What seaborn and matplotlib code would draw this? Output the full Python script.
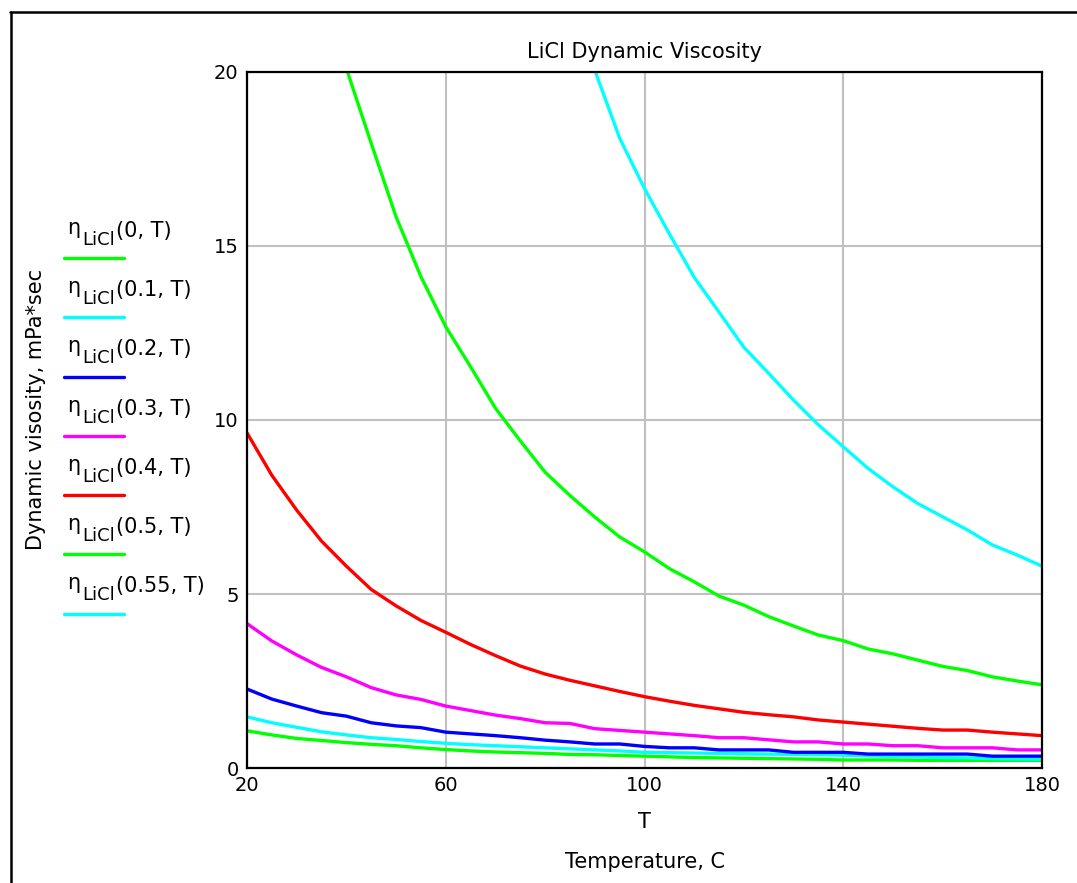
import numpy as np
import pandas as pd
import matplotlib
matplotlib.use("Agg")
import matplotlib.pyplot as plt
from matplotlib.lines import Line2D
import seaborn as sns

# ---------------- data ----------------
temperature = [20, 25, 30, 35, 40, 45, 50, 55, 60, 65, 70, 75, 80, 85, 90, 95, 100,
               105, 110, 115, 120, 125, 130, 135, 140, 145, 150, 155, 160, 165, 170, 175, 180]

visc_00 = [1.07, 0.95, 0.85, 0.79, 0.73, 0.68, 0.64, 0.58, 0.53, 0.49, 0.46, 0.44, 0.42, 0.39,
           0.38, 0.36, 0.34, 0.32, 0.30, 0.29, 0.28, 0.27, 0.26, 0.25, 0.23, 0.23, 0.23, 0.22,
           0.22, 0.22, 0.22, 0.22, 0.22]
visc_01 = [1.47, 1.30, 1.17, 1.04, 0.95, 0.87, 0.82, 0.76, 0.71, 0.67, 0.64, 0.61, 0.58, 0.55,
           0.52, 0.49, 0.45, 0.44, 0.43, 0.42, 0.41, 0.40, 0.39, 0.38, 0.37, 0.35, 0.33, 0.32,
           0.30, 0.29, 0.27, 0.26, 0.25]
visc_02 = [2.27, 1.98, 1.78, 1.59, 1.49, 1.30, 1.21, 1.16, 1.03, 0.98, 0.93, 0.87, 0.80, 0.75,
           0.69, 0.69, 0.62, 0.58, 0.58, 0.52, 0.52, 0.52, 0.45, 0.45, 0.45, 0.40, 0.40, 0.40,
           0.40, 0.40, 0.34, 0.34, 0.34]
visc_03 = [4.15, 3.65, 3.25, 2.89, 2.62, 2.31, 2.10, 1.97, 1.78, 1.65, 1.52, 1.42, 1.30, 1.28,
           1.13, 1.08, 1.03, 0.98, 0.93, 0.87, 0.87, 0.81, 0.75, 0.75, 0.69, 0.69, 0.64, 0.64,
           0.58, 0.58, 0.58, 0.52, 0.52]
visc_04 = [9.63, 8.41, 7.41, 6.52, 5.80, 5.13, 4.66, 4.24, 3.90, 3.55, 3.23, 2.93, 2.70, 2.52,
           2.36, 2.20, 2.05, 1.92, 1.80, 1.70, 1.60, 1.53, 1.47, 1.38, 1.32, 1.26, 1.20, 1.14,
           1.09, 1.09, 1.03, 0.98, 0.93]
visc_05 = [np.nan, np.nan, np.nan, np.nan, 20.1, 17.95, 15.84, 14.12, 12.68, 11.53, 10.34, 9.40,
           8.50, 7.83, 7.21, 6.64, 6.21, 5.73, 5.35, 4.94, 4.68, 4.35, 4.08, 3.82, 3.66, 3.42,
           3.28, 3.10, 2.92, 2.80, 2.62, 2.50, 2.39]
visc_055 = [np.nan] * 14 + [20.05, 18.10, 16.65, 15.35, 14.10, 13.10, 12.09, 11.34, 10.57, 9.86,
                            9.23, 8.61, 8.08, 7.60, 7.22, 6.84, 6.41, 6.12, 5.80]

concentrations = ["0", "0.1", "0.2", "0.3", "0.4", "0.5", "0.55"]
series = [visc_00, visc_01, visc_02, visc_03, visc_04, visc_05, visc_055]
colors = ["#00ff00", "#00ffff", "#0000ff", "#ff00ff", "#ff0000", "#00ff00", "#00ffff"]

x_ticks = [20, 60, 100, 140, 180]
y_ticks = [0, 5, 10, 15, 20]

frames = []
for c, vals in zip(concentrations, series):
    frames.append(pd.DataFrame({"T": temperature, "eta": vals, "x": c}))
df = pd.concat(frames, ignore_index=True).dropna()

# ---------------- figure ----------------
sns.set_style("white")
plt.rcParams["font.family"] = ["DejaVu Sans"]
plt.rcParams["text.color"] = "black"
plt.rcParams["axes.labelcolor"] = "black"
plt.rcParams["xtick.color"] = "black"
plt.rcParams["ytick.color"] = "black"

W, H = 1077, 883
fig = plt.figure(figsize=(W / 100, H / 100), dpi=100)
ax = fig.add_axes([247 / W, 1 - 768 / H, (1042 - 247) / W, (768 - 72) / H])

sns.lineplot(data=df, x="T", y="eta", hue="x", hue_order=concentrations,
             palette=colors, estimator=None, sort=False, linewidth=2.4,
             legend=False, ax=ax)

ax.set_xlim(20, 180)
ax.set_ylim(0, 20)
ax.set_xticks(x_ticks)
ax.set_yticks(y_ticks)
ax.set_xticklabels([str(v) for v in x_ticks])
ax.set_yticklabels([str(v) for v in y_ticks])
ax.tick_params(axis="both", length=0, labelsize=14, colors="black", pad=6)
ax.grid(True, color="#c0c0c0", linewidth=1.5)
ax.set_axisbelow(True)
for s in ax.spines.values():
    s.set_visible(True)
    s.set_color("black")
    s.set_linewidth(1.6)

ax.set_xlabel("T", fontsize=15, labelpad=12, color="black")
ax.set_ylabel("")
ax.set_title("LiCl Dynamic Viscosity", fontsize=15, pad=10, color="black")

def px(x, y):
    return x / W, 1 - y / H

fig.text(*px(645, 862), "Temperature, C", fontsize=15, ha="center", va="center",
         color="black")
fig.text(*px(36, 409), "Dynamic visosity, mPa*sec", fontsize=15, rotation=90,
         ha="center", va="center", color="black")

# legend drawn as text + line samples
for i, (c, col) in enumerate(zip(concentrations, colors)):
    dy = 59.2 * i
    fig.text(*px(67, 234 + dy), "\u03b7", fontsize=15, ha="left", va="baseline",
             color="black")
    fig.text(*px(82, 245 + dy), "LiCl", fontsize=13, ha="left", va="baseline",
             color="black")
    fig.text(*px(116, 237 + dy), "(" + c + ", T)", fontsize=15, ha="left",
             va="baseline", color="black")
    fig.add_artist(Line2D([64 / W, 124 / W], [1 - (258.3 + dy) / H] * 2,
                          color=col, linewidth=2.4, transform=fig.transFigure))

# outer frame
fig.add_artist(Line2D([10 / W, 1.0], [1 - 12 / H] * 2, color="black", linewidth=1.8,
                      transform=fig.transFigure))
fig.add_artist(Line2D([11 / W, 11 / W], [1 - 12 / H, 0.0], color="black", linewidth=1.8,
                      transform=fig.transFigure))

fig.savefig("out.png", dpi=100)
